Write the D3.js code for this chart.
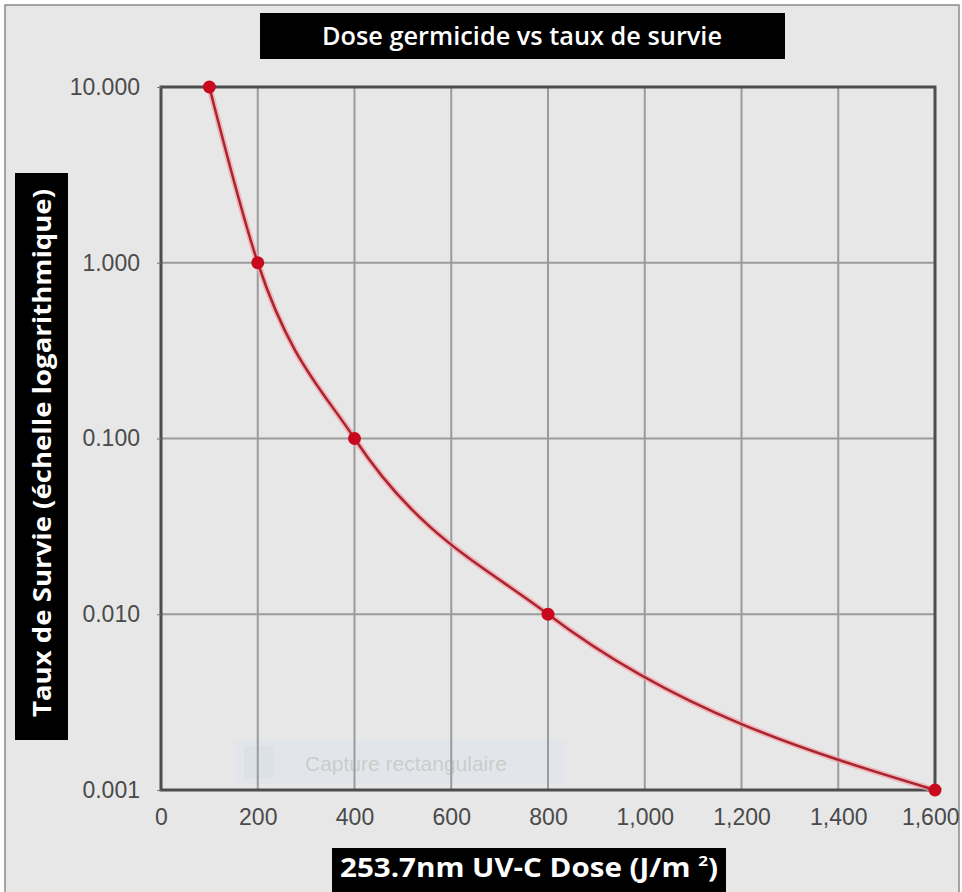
<!DOCTYPE html>
<html>
<head>
<meta charset="utf-8">
<script src="https://cdn.jsdelivr.net/npm/d3@7"></script>
<style>
  body { margin: 0; background: #fff; }
  svg { display: block; }
</style>
</head>
<body>
<div id="chart"></div>
<script>
const doses = [100, 200, 400, 800, 1600];
const survival = [10, 1, 0.1, 0.01, 0.001];
const xTicks = [0, 200, 400, 600, 800, 1000, 1200, 1400, 1600];
const yTicks = [10, 1, 0.1, 0.01, 0.001];
const yTickLabels = ['10.000', '1.000', '0.100', '0.010', '0.001'];

const W = 962, H = 892;
const plot = { left: 161, right: 935, top: 87, bottom: 790 };

const svg = d3.select('#chart').append('svg')
  .attr('width', W)
  .attr('height', H);

// outer panel
svg.append('rect')
  .attr('x', 5).attr('y', 5)
  .attr('width', W - 8).attr('height', H)
  .attr('fill', '#e7e7e7')
  .attr('stroke', '#8a8a8a')
  .attr('stroke-width', 1.5);

const x = d3.scaleLinear().domain([0, 1600]).range([plot.left, plot.right]);
const y = d3.scaleLog().domain([0.001, 10]).range([plot.bottom, plot.top]);

// watermark left over in the source picture
const wm = svg.append('g').attr('opacity', 0.35);
wm.append('rect')
  .attr('x', 235).attr('y', 740).attr('width', 330).attr('height', 44)
  .attr('fill', '#dbe6f2');
wm.append('rect')
  .attr('x', 244).attr('y', 746).attr('width', 30).attr('height', 32)
  .attr('fill', '#c8d8ec');
wm.append('text')
  .attr('x', 305).attr('y', 771)
  .attr('font-family', 'Liberation Sans, Arial, sans-serif')
  .attr('font-size', 21)
  .attr('fill', '#9a9a9a')
  .text('Capture rectangulaire');

// grid
svg.append('g')
  .selectAll('line')
  .data(xTicks)
  .join('line')
  .attr('x1', d => x(d)).attr('x2', d => x(d))
  .attr('y1', plot.top).attr('y2', plot.bottom)
  .attr('stroke', '#9b9b9b')
  .attr('stroke-width', 2);

svg.append('g')
  .selectAll('line')
  .data(yTicks)
  .join('line')
  .attr('x1', plot.left).attr('x2', plot.right)
  .attr('y1', d => y(d)).attr('y2', d => y(d))
  .attr('stroke', '#9b9b9b')
  .attr('stroke-width', 2);

// frame
svg.append('rect')
  .attr('x', plot.left).attr('y', plot.top)
  .attr('width', plot.right - plot.left)
  .attr('height', plot.bottom - plot.top)
  .attr('fill', 'none')
  .attr('stroke', '#4d4d4d')
  .attr('stroke-width', 3);

// axes
const xAxis = svg.append('g')
  .attr('transform', `translate(0,${plot.bottom})`)
  .call(d3.axisBottom(x).tickValues(xTicks).tickSize(0).tickPadding(19)
    .tickFormat(d3.format(',')));
xAxis.select('.domain').remove();
xAxis.selectAll('text')
  .attr('font-family', 'Liberation Sans, Arial, sans-serif')
  .attr('font-size', 23)
  .attr('fill', '#4a4a4a');
// keep the last label inside the window
xAxis.selectAll('.tick').filter(d => d === 1600).select('text')
  .attr('text-anchor', 'end')
  .attr('x', W - 3 - x(1600));

const yAxis = svg.append('g')
  .attr('transform', `translate(${plot.left},0)`)
  .call(d3.axisLeft(y).tickValues(yTicks).tickSize(4).tickPadding(17)
    .tickFormat((d, i) => yTickLabels[i]));
yAxis.select('.domain').remove();
yAxis.selectAll('line').attr('stroke', '#777');
yAxis.selectAll('text')
  .attr('font-family', 'Liberation Sans, Arial, sans-serif')
  .attr('font-size', 23)
  .attr('fill', '#4a4a4a');

// curve
const pts = doses.map((d, i) => [d, survival[i]]);
const line = d3.line()
  .x(d => x(d[0]))
  .y(d => y(d[1]))
  .curve(d3.curveMonotoneX);

svg.append('path')
  .datum(pts)
  .attr('d', line)
  .attr('fill', 'none')
  .attr('stroke', '#f4a0a8')
  .attr('stroke-width', 6)
  .attr('opacity', 0.7);
svg.append('path')
  .datum(pts)
  .attr('d', line)
  .attr('fill', 'none')
  .attr('stroke', '#a8252e')
  .attr('stroke-width', 2.5);

svg.append('g')
  .selectAll('circle')
  .data(pts)
  .join('circle')
  .attr('cx', d => x(d[0]))
  .attr('cy', d => y(d[1]))
  .attr('r', 6.5)
  .attr('fill', '#c8081c');

// title
svg.append('rect')
  .attr('x', 260).attr('y', 13).attr('width', 525).attr('height', 46)
  .attr('fill', '#000');
svg.append('text')
  .attr('x', 522).attr('y', 45)
  .attr('text-anchor', 'middle')
  .attr('font-family', 'Open Sans, sans-serif')
  .attr('font-weight', 600)
  .attr('font-size', 26)
  .attr('textLength', 400)
  .attr('lengthAdjust', 'spacingAndGlyphs')
  .attr('fill', '#fff')
  .text('Dose germicide vs taux de survie');

// x label
svg.append('rect')
  .attr('x', 332).attr('y', 848).attr('width', 394).attr('height', 44)
  .attr('fill', '#000');
const xl = svg.append('text')
  .attr('x', 340).attr('y', 877)
  .attr('font-family', 'Open Sans, sans-serif')
  .attr('font-weight', 700)
  .attr('font-size', 26)
  .attr('textLength', 378)
  .attr('lengthAdjust', 'spacingAndGlyphs')
  .attr('fill', '#fff');
xl.append('tspan').text('253.7nm UV-C Dose (J/m ');
xl.append('tspan').attr('font-size', 15).attr('dy', -11).text('2');
xl.append('tspan').attr('dy', 11).text(')');

// y label
svg.append('rect')
  .attr('x', 15).attr('y', 173).attr('width', 53).attr('height', 567)
  .attr('fill', '#000');
svg.append('text')
  .attr('transform', 'translate(51,453) rotate(-90)')
  .attr('text-anchor', 'middle')
  .attr('font-family', 'Open Sans, sans-serif')
  .attr('font-weight', 700)
  .attr('font-size', 25)
  .attr('textLength', 528)
  .attr('lengthAdjust', 'spacingAndGlyphs')
  .attr('fill', '#fff')
  .text('Taux de Survie (échelle logarithmique)');
</script>
</body>
</html>
